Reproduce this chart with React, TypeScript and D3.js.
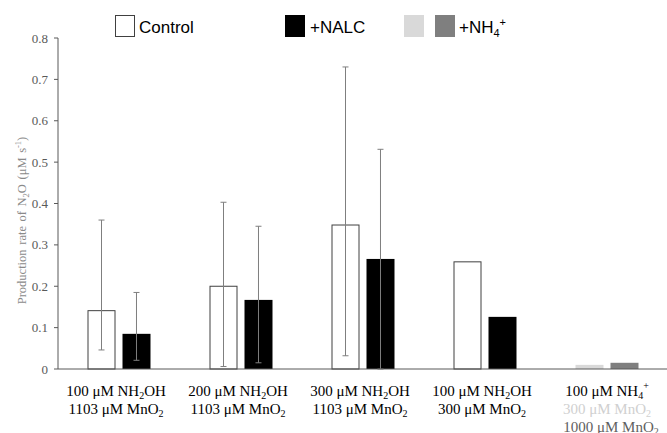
import React from 'react';
import * as d3 from 'd3';

// categories (two-line labels, index 4 is the NH4+ group)
const groups = ['g1', 'g2', 'g3', 'g4', 'g5'];
const controlValues = [0.141, 0.2, 0.348, 0.259];
const nalcValues = [0.085, 0.167, 0.266, 0.126];
const controlLow = [0.046, 0.006, 0.032, null];
const controlHigh = [0.36, 0.403, 0.73, null];
const nalcLow = [0.021, 0.015, 0.0, null];
const nalcHigh = [0.185, 0.345, 0.531, null];
// NH4+ group: 300 uM MnO2 (light) and 1000 uM MnO2 (dark)
const nh4Values = [0.01, 0.015];
const yTicks = [0, 0.1, 0.2, 0.3, 0.4, 0.5, 0.6, 0.7, 0.8];
const yTickLabels = ['0', '0.1', '0.2', '0.3', '0.4', '0.5', '0.6', '0.7', '0.8'];

const W = 667;
const H = 433;
const margin = { left: 58, right: -1, top: 38, bottom: 64 };

const Sub = ({ t }: { t: string }) => (
  <tspan fontSize="10" dy="3">{t}</tspan>
);

export default function App() {
  const x = d3.scaleBand().domain(groups).range([margin.left, W - margin.right]);
  const inner = d3
    .scaleBand()
    .domain(['a', 'b'])
    .range([0, x.bandwidth()])
    .paddingInner(0.2)
    .paddingOuter(0.843);
  const y = d3.scaleLinear().domain([0, 0.8]).range([H - margin.bottom, margin.top]);
  const bw = inner.bandwidth();
  const axisColor = '#595959';
  const errColor = '#7f7f7f';
  const serif = '"Liberation Serif", "DejaVu Serif", serif';
  const sans = '"Liberation Sans", Arial, sans-serif';

  const errBar = (cx: number, lo: number | null, hi: number | null, key: string) => {
    if (lo == null || hi == null) return null;
    return (
      <g key={key} stroke={errColor} strokeWidth={1}>
        <line x1={cx} x2={cx} y1={y(lo)} y2={y(hi)} />
        <line x1={cx - 3} x2={cx + 3} y1={y(lo)} y2={y(lo)} />
        <line x1={cx - 3} x2={cx + 3} y1={y(hi)} y2={y(hi)} />
      </g>
    );
  };

  const labelY = H - margin.bottom + 27;
  const lineH = 18;
  const xlabels: [React.ReactNode, React.ReactNode][] = [
    [<>100 μM NH<Sub t="2" /><tspan dy="-3">OH</tspan></>, <>1103 μM MnO<Sub t="2" /></>],
    [<>200 μM NH<Sub t="2" /><tspan dy="-3">OH</tspan></>, <>1103 μM MnO<Sub t="2" /></>],
    [<>300 μM NH<Sub t="2" /><tspan dy="-3">OH</tspan></>, <>1103 μM MnO<Sub t="2" /></>],
    [<>100 μM NH<Sub t="2" /><tspan dy="-3">OH</tspan></>, <>300 μM MnO<Sub t="2" /></>],
  ];

  return (
    <svg width={W} height={H} style={{ position: 'absolute', left: 0, top: 0, background: '#fff' }}>
      {/* legend */}
      <g fontFamily={sans} fontSize="17" fill="#000">
        <rect x={115.5} y={15.5} width={19} height={21} fill="#fff" stroke="#404040" />
        <text x={139} y={33}>Control</text>
        <rect x={285} y={15} width={20} height={22} fill="#000" />
        <text x={310} y={33}>+NALC</text>
        <rect x={404} y={15} width={20} height={22} fill="#d9d9d9" />
        <rect x={435} y={15} width={20} height={22} fill="#7f7f7f" />
        <text x={459} y={33}>
          +NH<tspan fontSize="11" dy="4">4</tspan>
          <tspan fontSize="11" dy="-11">+</tspan>
        </text>
      </g>

      {/* y axis */}
      <line x1={margin.left} x2={margin.left} y1={y(0.8)} y2={y(0)} stroke={axisColor} />
      {yTicks.map((t, i) => (
        <g key={t}>
          <line x1={margin.left - 4} x2={margin.left} y1={y(t)} y2={y(t)} stroke={axisColor} />
          <text
            x={margin.left - 10}
            y={y(t) + 4.5}
            textAnchor="end"
            fontFamily={serif}
            fontSize="13"
            fill={axisColor}
          >
            {yTickLabels[i]}
          </text>
        </g>
      ))}
      <text
        transform={`translate(26,${(y(0) + y(0.8)) / 2 + 17}) rotate(-90)`}
        textAnchor="middle"
        fontFamily={serif}
        fontSize="12.5"
        fill="#8a8a8a"
        wordSpacing="1.5"
      >
        Production rate of N<tspan fontSize="8.5" dy="3">2</tspan>
        <tspan dy="-3">O (μM s</tspan>
        <tspan fontSize="8.5" dy="-5">-1</tspan>
        <tspan dy="5">)</tspan>
      </text>

      {/* bars */}
      {controlValues.map((v, i) => {
        const gx = x(groups[i])!;
        const xa = gx + inner('a')!;
        const xb = gx + inner('b')!;
        return (
          <g key={i}>
            <rect
              x={xa + 0.5}
              y={y(v)}
              width={bw - 1}
              height={y(0) - y(v)}
              fill="#fff"
              stroke="#404040"
              strokeWidth={1}
            />
            <rect x={xb} y={y(nalcValues[i])} width={bw} height={y(0) - y(nalcValues[i])} fill="#000" />
            {errBar(xa + bw / 2, controlLow[i], controlHigh[i], `c${i}`)}
            {errBar(xb + bw / 2, nalcLow[i], nalcHigh[i], `n${i}`)}
          </g>
        );
      })}
      {nh4Values.map((v, j) => {
        const xx = x(groups[4])! + inner(j === 0 ? 'a' : 'b')!;
        return (
          <rect
            key={j}
            x={xx}
            y={y(v)}
            width={bw}
            height={y(0) - y(v)}
            fill={j === 0 ? '#d9d9d9' : '#7f7f7f'}
          />
        );
      })}

      {/* x axis */}
      <line x1={margin.left} x2={W} y1={y(0)} y2={y(0)} stroke={axisColor} />

      {/* x labels */}
      <g fontFamily={serif} fontSize="15" textAnchor="middle" fill="#000">
        {xlabels.map((lab, i) => {
          const cx = x(groups[i])! + x.bandwidth() / 2 - 3;
          return (
            <g key={i}>
              <text x={cx} y={labelY}>{lab[0]}</text>
              <text x={cx} y={labelY + lineH}>{lab[1]}</text>
            </g>
          );
        })}
        {(() => {
          const cx = x(groups[4])! + x.bandwidth() / 2;
          return (
            <g>
              <text x={cx} y={labelY}>
                100 μM NH<tspan fontSize="10" dy="3">4</tspan>
                <tspan fontSize="10" dy="-10">+</tspan>
              </text>
              <text x={cx} y={labelY + lineH} fill="#d0d0d0">
                300 μM MnO<Sub t="2" />
              </text>
              <text x={cx + 4} y={labelY + lineH * 2} fill="#606060">
                1000 μM MnO<Sub t="2" />
              </text>
            </g>
          );
        })()}
      </g>
    </svg>
  );
}
